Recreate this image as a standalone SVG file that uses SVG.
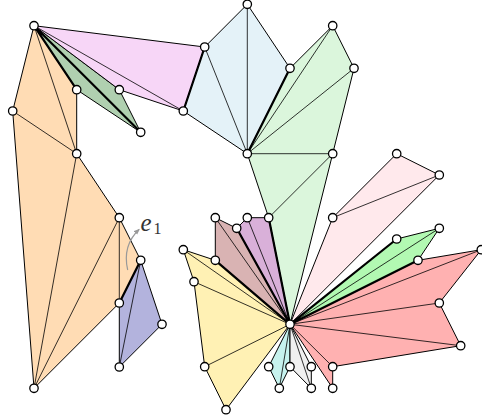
<svg xmlns="http://www.w3.org/2000/svg" width="482" height="420" viewBox="0 0 482 420">
<style>
.f{stroke:#000;stroke-width:1;stroke-linejoin:round}
.e{stroke:#000;stroke-width:0.8;fill:none}
.t{stroke:#000;stroke-width:2.2;fill:none;stroke-linecap:round}
.v{fill:#fff;stroke:#000;stroke-width:1.3}
</style>
<defs>
<marker id="ah" viewBox="0 0 10 10" refX="8" refY="5" markerWidth="5" markerHeight="5" orient="auto"><path d="M0,1 L10,5 L0,9 z" fill="#999"/></marker>
</defs>
<rect width="482" height="420" fill="#fff"/>
<g id="faces">
<g id="orange"><polygon class="f" fill="#ffdcb4" points="34,25.7 12.7,111 34,388.3 119.3,303 140.7,260.3 119.3,217.7 76.7,153.7 76.7,89.7"/></g>
<g id="bluepurple"><polygon class="f" fill="#b3b3dd" points="140.7,260.3 119.3,303 119.3,367 162,324.3"/></g>
<g id="darkgreen"><polygon class="f" fill="#b0d0b0" points="34,25.7 76.7,89.7 140.7,132.3 119.3,89.7"/></g>
<g id="pink"><polygon class="f" fill="#f7d6f7" points="34,25.7 204.7,47 183.3,111 119.3,89.7"/></g>
<g id="lightblue"><polygon class="f" fill="#e4f2f8" points="204.7,47 247.3,4.3 290,68.3 247.3,153.7 183.3,111"/></g>
<g id="lightgreen"><polygon class="f" fill="#dbf6dc" points="247.3,153.7 290,68.3 332.7,25.7 354,68.3 332.7,153.7 290,324.3 268.7,217.7"/></g>
<g id="purple"><polygon class="f" fill="#d9b0d9" points="236.7,228.3 247.3,217.7 268.7,217.7 290,324.3"/></g>
<g id="brown"><polygon class="f" fill="#d9b3b3" points="215.3,217.7 236.7,228.3 290,324.3 215.3,260.3"/></g>
<g id="yellow"><polygon class="f" fill="#fff1b4" points="215.3,260.3 290,324.3 226,409.7 204.7,366.7 194,281.7 183.3,249.7"/></g>
<g id="teal"><polygon class="f" fill="#c6f2ee" points="290,324.3 268.7,366.7 279.3,388.3 290,366.7"/></g>
<g id="gray"><polygon class="f" fill="#f0f0f0" points="290,324.3 290,366.7 311.3,388.3 311.3,366.7"/></g>
<g id="red"><polygon class="f" fill="#ffb1b1" points="290,324.3 332.7,388.3 332.7,366.7 460.7,345.7 439.3,303 481.3,249.7 418,260.3"/></g>
<g id="brightgreen"><polygon class="f" fill="#b2f9b2" points="290,324.3 418,260.3 439.3,228.3 396.7,239"/></g>
<g id="lightpink"><polygon class="f" fill="#ffe9ec" points="290,324.3 332.7,217.7 396.7,153.7 439.3,175"/></g>
</g>
<g id="connectors">
<path class="e" d="M34,25.7 L76.7,153.7 M12.7,111 L76.7,153.7 M76.7,153.7 L34,388.3 M119.3,217.7 L34,388.3 M119.3,217.7 L119.3,303"/>
<path class="e" d="M140.7,260.3 L119.3,367"/>
<path class="e" d="M34,25.7 L183.3,111"/>
<path class="e" d="M247.3,4.3 L247.3,153.7 M204.7,47 L247.3,153.7"/>
<path class="e" d="M247.3,153.7 L332.7,25.7 M247.3,153.7 L354,68.3 M247.3,153.7 L332.7,153.7 M332.7,153.7 L268.7,217.7"/>
<path class="e" d="M247.3,217.7 L290,324.3 M215.3,217.7 L290,324.3"/>
<path class="e" d="M183.3,249.7 L290,324.3 M194,281.7 L290,324.3 M204.7,366.7 L290,324.3"/>
<path class="e" d="M290,324.3 L279.3,388.3 M290,324.3 L311.3,388.3"/>
<path class="e" d="M290,324.3 L332.7,366.7 M290,324.3 L460.7,345.7 M290,324.3 L439.3,303 M290,324.3 L481.3,249.7"/>
<path class="e" d="M290,324.3 L439.3,228.3 M332.7,217.7 L439.3,175"/>
<path class="t" d="M34,25.7 L76.7,89.7 M34,25.7 L140.7,132.3 M204.7,47 L183.3,111 M290,68.3 L247.3,153.7 M140.7,260.3 L119.3,303 M236.7,228.3 L290,324.3 M268.7,217.7 L290,324.3 M215.3,260.3 L290,324.3 M290,324.3 L396.7,239 M290,324.3 L418,260.3"/>
<path d="M127.7,270 C124,254 128,240 139,229.5" fill="none" stroke="#999" stroke-width="1.2" marker-end="url(#ah)"/>
</g>
<g id="label">
<text x="140.5" y="231" font-family="Liberation Serif, serif" font-style="italic" font-size="25" fill="#333">e</text>
<text x="153.5" y="233.5" font-family="Liberation Serif, serif" font-size="16" fill="#333">1</text>
</g>
<g id="vertices">
<circle class="v" r="4.2" cx="34" cy="25.7"/>
<circle class="v" r="4.2" cx="12.7" cy="111"/>
<circle class="v" r="4.2" cx="34" cy="388.3"/>
<circle class="v" r="4.2" cx="119.3" cy="303"/>
<circle class="v" r="4.2" cx="140.7" cy="260.3"/>
<circle class="v" r="4.2" cx="119.3" cy="217.7"/>
<circle class="v" r="4.2" cx="76.7" cy="153.7"/>
<circle class="v" r="4.2" cx="76.7" cy="89.7"/>
<circle class="v" r="4.2" cx="119.3" cy="89.7"/>
<circle class="v" r="4.2" cx="140.7" cy="132.3"/>
<circle class="v" r="4.2" cx="204.7" cy="47"/>
<circle class="v" r="4.2" cx="183.3" cy="111"/>
<circle class="v" r="4.2" cx="247.3" cy="4.3"/>
<circle class="v" r="4.2" cx="290" cy="68.3"/>
<circle class="v" r="4.2" cx="247.3" cy="153.7"/>
<circle class="v" r="4.2" cx="332.7" cy="25.7"/>
<circle class="v" r="4.2" cx="354" cy="68.3"/>
<circle class="v" r="4.2" cx="332.7" cy="153.7"/>
<circle class="v" r="4.2" cx="268.7" cy="217.7"/>
<circle class="v" r="4.2" cx="247.3" cy="217.7"/>
<circle class="v" r="4.2" cx="236.7" cy="228.3"/>
<circle class="v" r="4.2" cx="215.3" cy="217.7"/>
<circle class="v" r="4.2" cx="215.3" cy="260.3"/>
<circle class="v" r="4.2" cx="183.3" cy="249.7"/>
<circle class="v" r="4.2" cx="194" cy="281.7"/>
<circle class="v" r="4.2" cx="204.7" cy="366.7"/>
<circle class="v" r="4.2" cx="226" cy="409.7"/>
<circle class="v" r="4.2" cx="268.7" cy="366.7"/>
<circle class="v" r="4.2" cx="279.3" cy="388.3"/>
<circle class="v" r="4.2" cx="290" cy="366.7"/>
<circle class="v" r="4.2" cx="311.3" cy="366.7"/>
<circle class="v" r="4.2" cx="311.3" cy="388.3"/>
<circle class="v" r="4.2" cx="332.7" cy="366.7"/>
<circle class="v" r="4.2" cx="332.7" cy="388.3"/>
<circle class="v" r="4.2" cx="460.7" cy="345.7"/>
<circle class="v" r="4.2" cx="439.3" cy="303"/>
<circle class="v" r="4.2" cx="481.3" cy="249.7"/>
<circle class="v" r="4.2" cx="418" cy="260.3"/>
<circle class="v" r="4.2" cx="439.3" cy="228.3"/>
<circle class="v" r="4.2" cx="396.7" cy="239"/>
<circle class="v" r="4.2" cx="332.7" cy="217.7"/>
<circle class="v" r="4.2" cx="396.7" cy="153.7"/>
<circle class="v" r="4.2" cx="439.3" cy="175"/>
<circle class="v" r="4.2" cx="119.3" cy="367"/>
<circle class="v" r="4.2" cx="162" cy="324.3"/>
<circle class="v" r="4.2" cx="290" cy="324.3"/>
</g>
</svg>
